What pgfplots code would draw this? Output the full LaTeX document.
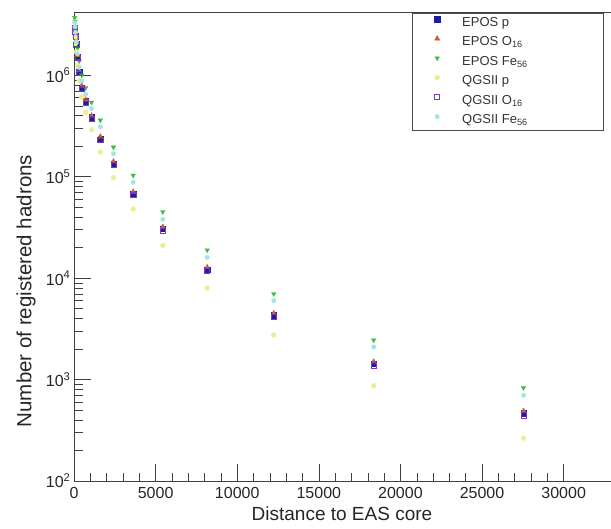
\documentclass[border=0pt]{standalone}
\usepackage{pgfplots}
\pgfplotsset{compat=1.18}
\usepackage{fontspec}
\setmainfont{Liberation Sans}

\definecolor{eposp}{RGB}{30,30,150}
\definecolor{eposo}{RGB}{205,95,45}
\definecolor{eposfe}{RGB}{60,190,60}
\definecolor{qgsp}{RGB}{238,236,150}
\definecolor{qgso}{RGB}{125,60,175}
\definecolor{qgsfe}{RGB}{165,228,228}

\newcommand\lent[1]{\makebox[128pt][l]{#1}}

\begin{document}
\begin{tikzpicture}
\useasboundingbox (-74pt,-47pt) rectangle (537pt,481pt);
\begin{axis}[
    at={(0,0)}, anchor=south west,
    scale only axis, width=537pt, height=469pt,
    xmin=0, xmax=32900,
    ymode=log, ymin=100, ymax=4.2e6,
    axis line style={black!75, line width=0.5pt},
    tick style={black!75, line width=0.5pt},
    tick align=inside,
    xtick pos=bottom, ytick pos=left,
    scaled x ticks=false,
    xtick={0,5000,10000,15000,20000,25000,30000},
    xticklabels={0,5000,10000,15000,20000,25000,30000},
    minor x tick num=4,
    ytick={100,1000,10000,100000,1000000},
    yticklabels={10\textsuperscript{2},10\textsuperscript{3},10\textsuperscript{4},10\textsuperscript{5},10\textsuperscript{6}},
    major tick length=17pt, minor tick length=8.5pt,
    ticklabel style={font=\fontsize{16}{18}\selectfont, text=black!85},
    xticklabel style={yshift=-3pt},
    xlabel={Distance to EAS core},
    ylabel={Number of registered hadrons},
    label style={font=\fontsize{19}{22}\selectfont, text=black!85},
    xlabel style={at={(axis description cs:0.499,-0.070)}, anchor=center},
    ylabel style={at={(axis description cs:-0.0894,0.405)}, anchor=center, rotate=0,
        font=\fontsize{20.5}{22}\selectfont},
    legend style={at={(axis description cs:0.6294,0.998)}, anchor=north west,
        draw=black!70, fill=white, inner xsep=13pt, inner ysep=1pt,
        row sep=1.5pt, column sep=13pt,
        nodes={inner sep=0pt, text height=12pt, text depth=6pt},
        font=\fontsize{13}{15}\selectfont, text=black!80},
    legend cell align=left,
    legend image code/.code={\path[draw=none,fill=none] (0pt,0pt) rectangle (24pt,8pt);
        \draw[#1] plot coordinates {(12pt,4pt)};},
]
\addplot[only marks, mark=square*, mark size=2.6pt, color=eposp] coordinates {
(27540,465)(18360,1440)(12240,4300)(8160,12200)(5440,30500)(3627,68000)
(2418,135000)(1612,238000)(1075,385000)(716,555000)(478,760000)(318,1.09e6)
(212,1.52e6)(142,2.05e6)(94,2.45e6)(63,2.75e6)(42,2.95e6)};
\addlegendentry{\lent{EPOS p}}
\addplot[only marks, mark=triangle*, mark size=3pt, color=eposo] coordinates {
(27540,490)(18360,1500)(12240,4500)(8160,12800)(5440,32000)(3627,71000)
(2418,141000)(1612,248000)(1075,400000)(716,575000)(478,790000)(318,1.13e6)
(212,1.58e6)(142,2.12e6)(94,2.52e6)(63,2.82e6)(42,3.02e6)};
\addlegendentry{\lent{EPOS O\textsubscript{16}}}
\addplot[only marks, mark=triangle*, mark options={rotate=180}, mark size=2.6pt, color=eposfe] coordinates {
(27540,830)(18360,2450)(12240,7000)(8160,18900)(5440,45000)(3627,103000)
(2418,195000)(1612,360000)(1075,540000)(716,750000)(478,1.0e6)(318,1.38e6)
(212,1.85e6)(142,2.45e6)(94,3.0e6)(63,3.4e6)(42,3.7e6)};
\addlegendentry{\lent{EPOS Fe\textsubscript{56}}}
\addplot[only marks, mark=*, mark size=2.4pt, color=qgsp] coordinates {
(27540,265)(18360,870)(12240,2750)(8160,8000)(5440,21000)(3627,48000)
(2418,98000)(1612,175000)(1075,290000)(716,430000)(478,610000)(318,880000)
(212,1.25e6)(142,1.7e6)(94,2.05e6)(63,2.35e6)(42,2.55e6)};
\addlegendentry{\lent{QGSII p}}
\addplot[only marks, mark=square, mark size=2.6pt, color=qgso, line width=0.6pt] coordinates {
(27540,445)(18360,1380)(12240,4150)(8160,11800)(5440,29500)(3627,66000)
(2418,131000)(1612,232000)(1075,375000)(716,540000)(478,740000)(318,1.06e6)
(212,1.48e6)(142,2.0e6)(94,2.4e6)(63,2.7e6)(42,2.9e6)};
\addlegendentry{\lent{QGSII O\textsubscript{16}}}
\addplot[only marks, mark=*, mark size=2.2pt, color=qgsfe] coordinates {
(27540,700)(18360,2100)(12240,6000)(8160,16000)(5440,38000)(3627,88000)
(2418,168000)(1612,310000)(1075,470000)(716,650000)(478,880000)(318,1.2e6)
(212,1.62e6)(142,2.15e6)(94,2.65e6)(63,3.0e6)(42,3.3e6)};
\addlegendentry{\lent{QGSII Fe\textsubscript{56}}}
\end{axis}
\end{tikzpicture}
\end{document}
